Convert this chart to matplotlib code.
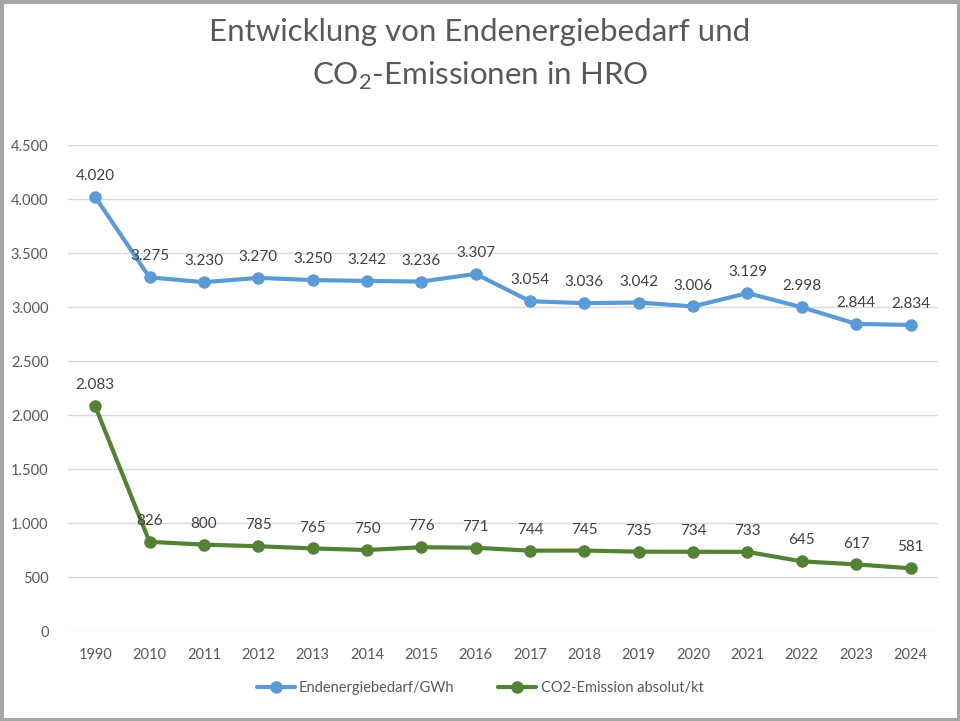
import matplotlib.pyplot as plt
from matplotlib.patches import Rectangle
from matplotlib.ticker import FuncFormatter

years = ['1990', '2010', '2011', '2012', '2013', '2014', '2015', '2016',
         '2017', '2018', '2019', '2020', '2021', '2022', '2023', '2024']
endenergie = [4020, 3275, 3230, 3270, 3250, 3242, 3236, 3307,
              3054, 3036, 3042, 3006, 3129, 2998, 2844, 2834]
co2 = [2083, 826, 800, 785, 765, 750, 776, 771,
       744, 745, 735, 734, 733, 645, 617, 581]

plt.rcParams['font.family'] = ['Lato', 'DejaVu Sans']
plt.rcParams['mathtext.fontset'] = 'custom'
plt.rcParams['mathtext.rm'] = 'Lato'


def de_format(v):
    return f'{v:,.0f}'.replace(',', '.')


fig = plt.figure(figsize=(9.6, 7.21), dpi=100)
ax = fig.add_axes([0.0708, 0.1248, 0.906, 0.674])

x = list(range(len(years)))
ax.plot(x, endenergie, color='#5B9BD5', lw=3, marker='o', ms=8,
        label='Endenergiebedarf/GWh', solid_capstyle='round')
ax.plot(x, co2, color='#548235', lw=3, marker='o', ms=8,
        label='CO2-Emission absolut/kt', solid_capstyle='round')

# data labels above each point
for xi, v in zip(x, endenergie):
    ax.annotate(de_format(v), (xi, v), xytext=(0, 10), textcoords='offset points',
                ha='center', va='bottom', fontsize=11, color='#404040')
for xi, v in zip(x, co2):
    ax.annotate(de_format(v), (xi, v), xytext=(0, 10), textcoords='offset points',
                ha='center', va='bottom', fontsize=11, color='#404040')

ax.set_xlim(-0.5, len(years) - 0.5)
ax.set_ylim(0, 4500)
ax.set_yticks(range(0, 4501, 500))
ax.yaxis.set_major_formatter(FuncFormatter(lambda v, p: de_format(v)))
ax.set_xticks(x)
ax.set_xticklabels(years)
ax.tick_params(length=0, labelsize=10.5, labelcolor='#595959')
ax.tick_params(axis='x', pad=12)
ax.tick_params(axis='y', pad=14)
ax.grid(axis='y', color='#D9D9D9', lw=1)
ax.set_axisbelow(True)
for s in ax.spines.values():
    s.set_visible(False)

fig.text(0.5, 0.955, 'Entwicklung von Endenergiebedarf und', ha='center', va='center',
         fontsize=22.5, color='#595959')
fig.text(0.5, 0.895, 'CO$_\\mathrm{2}$-Emissionen in HRO', ha='center', va='center',
         fontsize=22.5, color='#595959')

fig.legend(loc='center', bbox_to_anchor=(0.5, 0.046), ncol=2, frameon=False,
           fontsize=10.5, labelcolor='#595959', handlelength=2.6, columnspacing=3,
           handletextpad=0.3)

fig.patches.append(Rectangle((0, 0), 1, 1, transform=fig.transFigure, fill=False,
                             edgecolor='#A6A6A6', lw=5))

plt.savefig('out.png', dpi=100)
